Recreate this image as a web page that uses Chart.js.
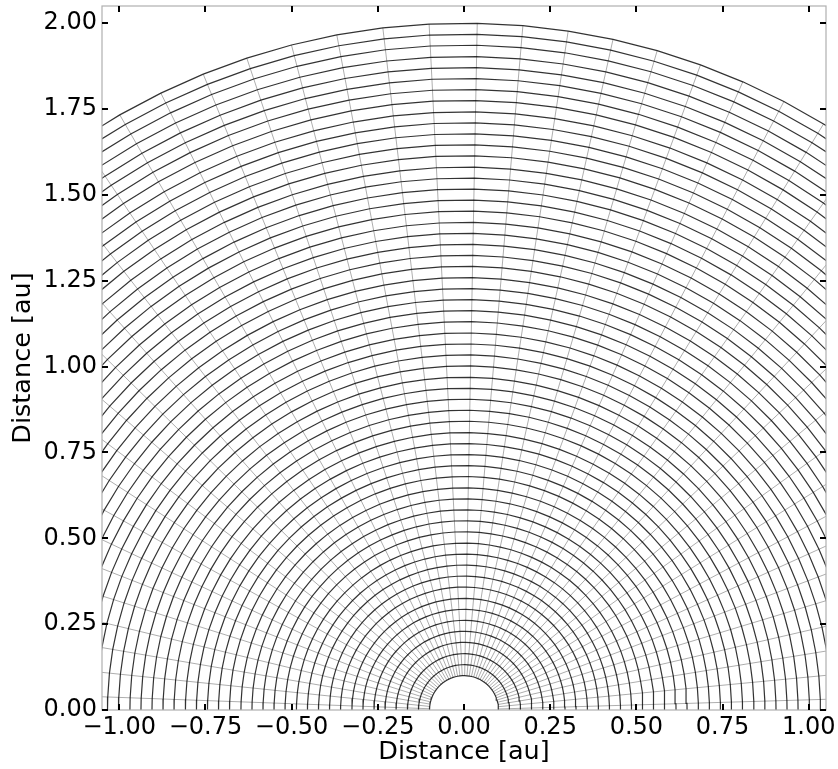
<!DOCTYPE html>
<html>
<head>
<meta charset="utf-8">
<script src="https://cdn.jsdelivr.net/npm/chart.js@4.4.0/dist/chart.umd.min.js"></script>
<style>
  html, body { margin: 0; padding: 0; background: #ffffff; }
  #wrap { width: 838px; height: 769px; }
</style>
</head>
<body>
<div id="wrap"><canvas id="c" width="838" height="769"></canvas></div>
<script>
// ---- data ----
// radii of the concentric grid arcs [au]
const radii = [0.100, 0.132, 0.164, 0.197, 0.229, 0.261, 0.293, 0.325, 0.358, 0.390,
               0.422, 0.454, 0.486, 0.519, 0.551, 0.583, 0.615, 0.647, 0.680, 0.712,
               0.744, 0.776, 0.808, 0.841, 0.873, 0.905, 0.937, 0.969, 1.002, 1.034,
               1.066, 1.098, 1.131, 1.163, 1.195, 1.227, 1.259, 1.292, 1.324, 1.356,
               1.388, 1.420, 1.453, 1.485, 1.517, 1.549, 1.581, 1.614, 1.646, 1.678,
               1.710, 1.742, 1.775, 1.807, 1.839, 1.871, 1.903, 1.936, 1.968, 2.000];
// polar angles of the radial grid lines [deg], measured from the +x axis
const angles = [1.70, 5.49, 9.28, 13.07, 16.86, 20.66, 24.45, 28.24, 32.03, 35.82,
                39.61, 43.40, 47.19, 50.98, 54.77, 58.57, 62.36, 66.15, 69.94, 73.73,
                77.52, 81.31, 85.10, 88.90,
                92.90, 96.76, 100.63, 104.49, 108.36, 112.22, 116.08, 119.95, 123.81, 127.68,
                131.54, 135.40, 139.27, 143.13, 147.00, 150.86, 154.72, 158.59, 162.45, 166.32,
                170.18, 174.04, 177.90];
// angular extent of the domain [deg]
const domainAngles = [0, 180];
const xTicks = [-1.00, -0.75, -0.50, -0.25, 0.00, 0.25, 0.50, 0.75, 1.00];
const yTicks = [0.00, 0.25, 0.50, 0.75, 1.00, 1.25, 1.50, 1.75, 2.00];
const xLimits = [-1.05, 1.05];
const yLimits = [0.00, 2.05];
const axisTitle = 'Distance [au]';

// ---- build datasets ----
const D2R = Math.PI / 180;
const arcAngles = [domainAngles[0]].concat(angles, [domainAngles[1]]);
const rInner = radii[0], rOuter = radii[radii.length - 1];

const arcSets = radii.map(r => ({
  data: arcAngles.map(a => ({ x: r * Math.cos(a * D2R), y: r * Math.sin(a * D2R) })),
  borderColor: 'rgba(0,0,0,0.8)',
  borderWidth: 1.2,
  showLine: true, pointRadius: 0, tension: 0, fill: false
}));
const radialSets = angles.map(a => ({
  data: [rInner, rOuter].map(r => ({ x: r * Math.cos(a * D2R), y: r * Math.sin(a * D2R) })),
  borderColor: 'rgba(0,0,0,0.32)',
  borderWidth: 1,
  showLine: true, pointRadius: 0, tension: 0, fill: false
}));

const fmt = v => {
  const s = Math.abs(v).toFixed(2);
  return (v < -1e-9 ? '\u2212' : '') + s;
};

const FONT = 'DejaVu Sans';

const frameTicks = {
  id: 'frameTicks',
  afterDraw(chart) {
    const { ctx, chartArea: ca, scales: { x, y } } = chart;
    ctx.save();
    // frame
    ctx.strokeStyle = '#b0b0b0';
    ctx.lineWidth = 1.2;
    ctx.strokeRect(ca.left, ca.top, ca.right - ca.left, ca.bottom - ca.top);
    // inward ticks on all four sides
    ctx.strokeStyle = '#000';
    ctx.lineWidth = 2;
    const L = 6;
    ctx.beginPath();
    xTicks.forEach(v => {
      const px = Math.round(x.getPixelForValue(v));
      ctx.moveTo(px, ca.bottom); ctx.lineTo(px, ca.bottom - L);
      ctx.moveTo(px, ca.top); ctx.lineTo(px, ca.top + L);
    });
    yTicks.forEach(v => {
      const py = Math.round(y.getPixelForValue(v));
      ctx.moveTo(ca.left, py); ctx.lineTo(ca.left + L, py);
      ctx.moveTo(ca.right, py); ctx.lineTo(ca.right - L, py);
    });
    ctx.stroke();
    ctx.restore();
  }
};

new Chart(document.getElementById('c'), {
  type: 'scatter',
  data: { datasets: arcSets.concat(radialSets) },
  options: {
    responsive: false,
    animation: false,
    devicePixelRatio: 1,
    layout: { padding: { top: 6, right: 12, left: 0, bottom: 0 } },
    plugins: { legend: { display: false }, tooltip: { enabled: false } },
    scales: {
      x: {
        type: 'linear', min: xLimits[0], max: xLimits[1],
        afterBuildTicks: s => { s.ticks = xTicks.map(v => ({ value: v })); },
        afterFit: s => { s.height = 59; s.paddingLeft = 0; s.paddingRight = 0; },
        grid: { display: false, drawTicks: false },
        border: { display: false },
        ticks: { autoSkip: false, maxRotation: 0, padding: 3, color: '#000',
                 font: { family: FONT, size: 24 }, callback: v => fmt(v) },
        title: { display: true, text: axisTitle, color: '#000',
                 font: { family: FONT, size: 25.5 }, padding: { top: 0, bottom: 1 } }
      },
      y: {
        type: 'linear', min: yLimits[0], max: yLimits[1],
        afterBuildTicks: s => { s.ticks = yTicks.map(v => ({ value: v })); },
        afterFit: s => { s.width = 102; s.paddingTop = 0; s.paddingBottom = 0; },
        grid: { display: false, drawTicks: false },
        border: { display: false },
        ticks: { autoSkip: false, padding: 5, color: '#000',
                 font: { family: FONT, size: 24 }, callback: v => fmt(v) },
        title: { display: true, text: axisTitle, color: '#000',
                 font: { family: FONT, size: 25.5 }, padding: { top: 8, bottom: 0 } }
      }
    }
  },
  plugins: [frameTicks]
});
</script>
</body>
</html>
